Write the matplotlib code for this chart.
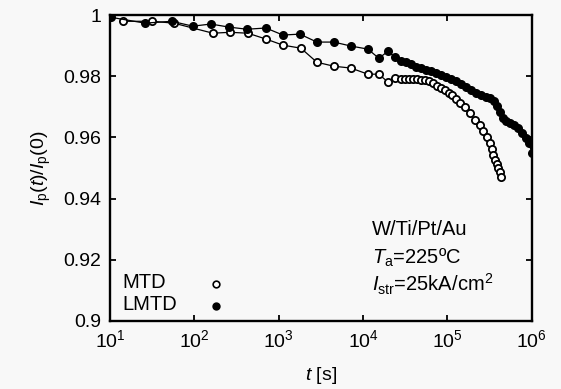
import matplotlib
matplotlib.use("Agg")
import matplotlib.pyplot as plt
from matplotlib.ticker import FixedLocator, NullLocator, FuncFormatter

plt.rcParams['font.family'] = ['Liberation Sans', 'DejaVu Sans']
plt.rcParams['mathtext.fontset'] = 'custom'
plt.rcParams['mathtext.rm'] = 'Liberation Sans'
plt.rcParams['mathtext.it'] = 'Liberation Sans:italic'
plt.rcParams['mathtext.default'] = 'regular'

# MTD (open circles)
t_mtd = [14.3, 31.5, 57, 166, 264, 431, 705, 1122, 1833, 2836, 4510, 7170,
         11400, 15400, 19700, 23800, 28100, 31300, 34900, 38900, 43400, 48400,
         54000, 60200, 67100, 74900, 83500, 93100, 104000, 113000, 126000,
         140000, 161000, 184000, 211000, 242000, 263000, 293000, 318000,
         336000, 345000, 364000, 385000, 396000, 418000, 429000]
r_mtd = [0.998, 0.998, 0.9974, 0.9941, 0.9944, 0.9941, 0.9922, 0.9902, 0.9892,
         0.9846, 0.9833, 0.9827, 0.9807, 0.9807, 0.9781, 0.9794, 0.9791, 0.9791,
         0.9791, 0.9791, 0.9791, 0.9788, 0.9788, 0.9784, 0.9778, 0.9768, 0.9761,
         0.9755, 0.9745, 0.9739, 0.9725, 0.9712, 0.9699, 0.9680, 0.9657, 0.9641,
         0.9621, 0.9601, 0.9582, 0.9562, 0.9542, 0.9526, 0.9513, 0.9500, 0.9487,
         0.9471]

# LMTD (filled circles)
t_lmtd = [10.3, 26, 54, 96, 157, 257, 420, 705, 1122, 1783, 2836, 4510, 7170,
          11400, 15400, 19700, 23800, 28100, 32200, 36800, 42300, 48400, 55500,
          63600, 72900, 83500, 95700, 110000, 126000, 144000, 165000, 189000,
          217000, 249000, 285000, 318000, 355000, 385000, 418000, 453000,
          492000, 548000, 612000, 682000, 762000, 849000, 921000, 1000000]
r_lmtd = [0.9993, 0.9974, 0.9980, 0.9964, 0.9971, 0.9961, 0.9954, 0.9958, 0.9935,
          0.9938, 0.9912, 0.9912, 0.9899, 0.9889, 0.9859, 0.9882, 0.9863, 0.9850,
          0.9846, 0.9840, 0.9830, 0.9827, 0.9820, 0.9817, 0.9810, 0.9804, 0.9797,
          0.9791, 0.9784, 0.9775, 0.9765, 0.9755, 0.9745, 0.9739, 0.9732, 0.9729,
          0.9719, 0.9703, 0.9683, 0.9663, 0.9654, 0.9647, 0.9641, 0.9631, 0.9614,
          0.9598, 0.9582, 0.9550]

y_ticks = [0.9, 0.92, 0.94, 0.96, 0.98, 1.0]
x_ticks = [1e1, 1e2, 1e3, 1e4, 1e5, 1e6]

bg = '#f8f8f8'
fig = plt.figure(figsize=(5.61, 3.89), dpi=100, facecolor=bg)
ax = fig.add_axes([0.196, 0.175, 0.752, 0.786], facecolor=bg)

ax.plot(t_mtd, r_mtd, '-o', color='black', lw=0.9, ms=5.2,
        mfc='white', mec='black', mew=1.3)
ax.plot(t_lmtd, r_lmtd, '-o', color='black', lw=0.9, ms=5.2,
        mfc='black', mec='black', mew=1.3)

ax.set_xscale('log')
ax.set_xlim(1e1, 1e6)
ax.set_ylim(0.9, 1.0)
ax.xaxis.set_major_locator(FixedLocator(x_ticks))
ax.xaxis.set_minor_locator(NullLocator())
ax.yaxis.set_major_locator(FixedLocator(y_ticks))
ax.yaxis.set_major_formatter(FuncFormatter(lambda v, p: '%g' % v))
ax.tick_params(direction='in', length=4, width=1.3, top=True, right=True,
               labelsize=14, pad=6, colors='black')
for s in ax.spines.values():
    s.set_linewidth(1.7)

ax.set_xlabel(r'$\mathit{t}$ [s]', fontsize=14, labelpad=10)
ax.set_ylabel(r'$\mathit{I}_{\mathrm{p}}(\mathit{t})/\mathit{I}_{\mathrm{p}}(0)$',
              fontsize=14, labelpad=8)

# legend drawn by hand so that the markers line up
ax.text(0.03, 0.125, 'MTD', transform=ax.transAxes, fontsize=14.5, va='center')
ax.text(0.03, 0.055, 'LMTD', transform=ax.transAxes, fontsize=14.5, va='center')
ax.plot([0.251], [0.12], 'o', transform=ax.transAxes, ms=4.8,
        mfc='white', mec='black', mew=1.2, clip_on=False)
ax.plot([0.251], [0.05], 'o', transform=ax.transAxes, ms=4.8,
        mfc='black', mec='black', mew=1.2, clip_on=False)

ax.text(0.62, 0.30, 'W/Ti/Pt/Au', transform=ax.transAxes, fontsize=14.5, va='center')
ax.text(0.62, 0.205, r'$\mathit{T}_{\mathrm{a}}$=225ºC', transform=ax.transAxes,
        fontsize=14.5, va='center')
ax.text(0.62, 0.12, r'$\mathit{I}_{\mathrm{str}}$=25kA/cm$^2$', transform=ax.transAxes,
        fontsize=14.5, va='center')

fig.savefig('out.png', dpi=100, facecolor=bg)
